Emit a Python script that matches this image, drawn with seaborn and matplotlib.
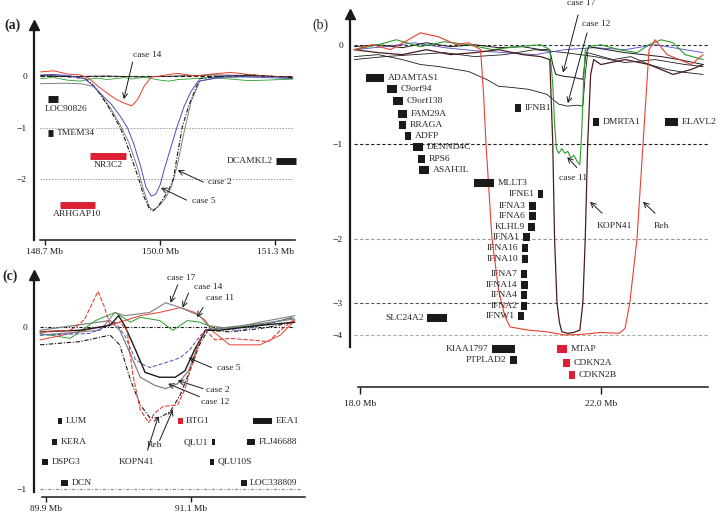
import numpy as np
import matplotlib
matplotlib.use('Agg')
import matplotlib.pyplot as plt
import seaborn as sns

sns.set_theme(style='white')
plt.rcParams['font.family'] = ['Liberation Serif', 'DejaVu Serif']

RED = '#ea3f2e'
GENE_RED = '#dc1f35'
BLUE = '#4b4bc6'
GREEN = '#2a9e2a'
GRAY = '#808080'
BROWN = '#4a1c1c'
MINUS = '\u2212'

# ---------------- panel (a) data ----------------
a_case5_x = [148.65, 148.8, 149.0, 149.15, 149.25, 149.35, 149.45, 149.55, 149.63, 149.7, 149.78, 149.84,
             149.9, 149.95, 150.0, 150.05, 150.12, 150.19, 150.27, 150.35, 150.43, 150.6, 150.8, 151.0, 151.2, 151.5]
a_case5_y = [0.02, 0.03, 0.0, -0.05, -0.2, -0.38, -0.55, -0.78, -1.0, -1.3, -1.75, -2.15,
             -2.33, -2.3, -2.12, -1.8, -1.4, -1.0, -0.6, -0.3, -0.1, -0.05, 0.0, -0.02, -0.03, -0.05]
a_case2_x = [148.65, 148.8, 149.0, 149.15, 149.23, 149.3, 149.4, 149.5, 149.55, 149.62, 149.7, 149.76, 149.82,
             149.88, 149.92, 149.97, 150.03, 150.1, 150.15, 150.2, 150.25, 150.32, 150.4, 150.45, 150.6, 150.8,
             151.0, 151.2, 151.5]
a_case2_y = [0.0, 0.0, -0.02, -0.05, -0.15, -0.3, -0.55, -0.85, -1.0, -1.3, -1.7, -2.0, -2.35,
             -2.58, -2.62, -2.55, -2.4, -2.2, -2.0, -1.5, -1.0, -0.6, -0.25, -0.05, -0.02, 0.0,
             0.02, 0.0, -0.03]
a_gray_x = [148.65, 148.9, 149.1, 149.25, 149.35, 149.45, 149.55, 149.65, 149.75, 149.82, 149.88, 149.93, 150.0,
            150.07, 150.13, 150.2, 150.27, 150.35, 150.45, 150.6, 150.9, 151.2, 151.5]
a_gray_y = [-0.15, -0.14, -0.15, -0.2, -0.4, -0.65, -0.95, -1.3, -1.8, -2.25, -2.55, -2.6, -2.5,
            -2.35, -2.15, -1.7, -1.1, -0.5, -0.1, -0.05, -0.02, 0.0, -0.04]
a_case14_x = [148.65, 148.8, 148.95, 149.1, 149.2, 149.3, 149.4, 149.5, 149.6, 149.68, 149.75, 149.82,
              149.9, 150.0, 150.1, 150.2, 150.4, 150.6, 150.8, 151.0, 151.2, 151.5]
a_case14_y = [0.08, 0.1, 0.04, 0.02, -0.05, -0.2, -0.33, -0.45, -0.53, -0.58, -0.45, -0.2,
              -0.02, 0.0, 0.03, 0.05, 0.0, 0.04, 0.07, 0.03, 0.0, -0.03]
a_green_y = [-0.05, -0.03, -0.08, -0.1, -0.06, -0.04, -0.07, -0.05, -0.03, -0.06, -0.04, -0.02,
             -0.05, -0.08, -0.1, -0.07, -0.05, -0.03, -0.06, -0.09, -0.08, -0.06]
a_black_x = [148.65, 149.0, 149.4, 149.8, 150.2, 150.6, 151.0, 151.5]
a_black_y = [0.01, -0.01, 0.0, -0.02, 0.0, 0.02, 0.01, -0.02]

a_genes = ['LOC90826', 'TMEM34', 'NR3C2', 'ARHGAP10', 'DCAMKL2']
a_start = [148.73, 148.73, 149.21, 148.87, 151.31]
a_end = [148.85, 148.79, 149.62, 149.26, 151.54]
a_gy = [-0.45, -1.1, -1.55, -2.5, -1.65]
a_gcol = ['k', 'k', GENE_RED, GENE_RED, 'k']
a_side = ['belowleft', 'right', 'below', 'below', 'left']

a_ann = ['case 14', 'case 2', 'case 5']
a_tip = [(149.59, -0.45), (150.2, -1.83), (150.01, -2.17)]
a_tail = [(149.69, 0.27), (150.49, -2.06), (150.3, -2.41)]
a_txt = [(149.86, 0.41), (150.67, -2.06), (150.49, -2.43)]

# ---------------- panel (b) data ----------------
b_reh_x = [17.9, 18.2, 18.5, 18.8, 19.0, 19.3, 19.6, 19.8, 20.0, 20.05, 20.09, 20.19, 20.3, 20.4, 20.49,
           20.8, 21.1, 21.4, 21.7, 22.0, 22.3, 22.4, 22.48, 22.6, 22.7, 22.8, 22.9, 23.1, 23.3, 23.5, 23.7]
b_reh_y = [-0.05, 0.0, -0.05, 0.05, 0.12, 0.08, 0.0, 0.02, -0.05, -0.5, -1.0, -2.0, -2.8, -3.4, -3.75,
           -3.85, -3.9, -4.0, -3.98, -3.92, -3.95, -3.8, -3.0, -2.0, -1.0, -0.05, 0.05, -0.1, -0.15, -0.2, -0.1]
b_kopn_x = [17.9, 18.3, 18.7, 19.1, 19.5, 19.9, 20.3, 20.7, 21.0, 21.15, 21.2, 21.23, 21.27, 21.31, 21.35,
            21.45, 21.55, 21.65, 21.7, 21.74, 21.78, 21.83, 21.88, 22.0, 22.4, 22.8, 23.2, 23.5, 23.7]
b_kopn_y = [-0.05, -0.08, -0.1, -0.05, -0.1, -0.08, -0.05, -0.1, -0.12, -0.15, -1.0, -2.0, -3.0, -3.6, -3.9,
            -3.95, -3.92, -3.85, -3.0, -2.0, -1.0, -0.3, -0.15, -0.2, -0.15, -0.2, -0.3, -0.25, -0.2]
b_case11_x = [17.9, 18.3, 18.6, 19.0, 19.4, 19.8, 20.2, 20.6, 21.0, 21.15, 21.2, 21.23, 21.26, 21.3, 21.35,
              21.4, 21.45, 21.5, 21.55, 21.6, 21.65, 21.68, 21.71, 21.74, 21.8, 22.0, 22.3, 22.6, 22.8, 23.0,
              23.2, 23.4, 23.7]
b_case11_y = [-0.05, 0.0, 0.05, -0.02, 0.03, 0.0, -0.05, -0.02, 0.0, -0.05, -0.4, -0.8, -1.05, -1.1, -1.05,
              -1.1, -1.08, -1.15, -1.12, -1.18, -1.22, -0.9, -0.4, -0.05, -0.02, 0.0, -0.05, -0.08, 0.0, 0.05,
              0.02, -0.1, -0.15]
b_case12_x = [17.9, 18.3, 18.7, 19.0, 19.3, 19.6, 19.8, 20.1, 20.3, 20.5, 20.8, 21.1, 21.3, 21.45, 21.6,
              21.7, 21.74, 21.78, 21.9, 22.2, 22.5, 22.8, 23.1, 23.4, 23.7]
b_case12_y = [-0.12, -0.1, -0.15, -0.2, -0.22, -0.25, -0.27, -0.35, -0.42, -0.43, -0.45, -0.5, -0.6, -0.62,
              -0.61, -0.62, -0.3, -0.08, -0.1, -0.15, -0.12, -0.2, -0.25, -0.28, -0.3]
b_case17_x = [17.9, 18.3, 18.7, 19.1, 19.5, 19.9, 20.3, 20.7, 21.0, 21.15, 21.2, 21.25, 21.4, 21.55, 21.7,
              21.75, 21.8, 22.1, 22.4, 22.7, 23.0, 23.3, 23.7]
b_case17_y = [-0.02, 0.0, -0.03, 0.02, -0.02, 0.0, -0.03, -0.02, -0.05, -0.05, -0.2, -0.3, -0.32, -0.33,
              -0.35, -0.1, -0.02, -0.05, -0.08, -0.1, -0.12, -0.15, -0.2]
b_base_x = [17.9, 18.4, 18.9, 19.4, 19.9, 20.4, 20.9, 21.4, 21.9, 22.4, 22.9, 23.4, 23.7]
b_blue_y = [-0.05, -0.02, 0.02, -0.03, -0.06, -0.08, -0.1, -0.05, -0.03, -0.05, 0.0, -0.05, -0.08]
b_black_y = [-0.15, -0.12, -0.1, -0.08, -0.12, -0.1, -0.05, -0.08, -0.12, -0.18, -0.15, -0.2, -0.22]

b_genes = ['ADAMTAS1', 'C9orf94', 'C9orf138', 'FAM29A', 'RRAGA', 'ADFP', 'DENND4C', 'RPS6', 'ASAH3L',
           'MLLT3', 'IFNB1', 'DMRTA1', 'ELAVL2', 'IFNE1', 'IFNA3', 'IFNA6', 'KLHL9', 'IFNA1', 'IFNA16',
           'IFNA10', 'IFNA7', 'IFNA14', 'IFNA4', 'IFNA2', 'IFNW1', 'SLC24A2', 'KIAA1797', 'PTPLAD2',
           'MTAP', 'CDKN2A', 'CDKN2B']
b_start = [18.10, 18.45, 18.55, 18.63, 18.65, 18.75, 18.88, 18.96, 18.98, 19.89, 20.57, 21.87, 23.06,
           20.95, 20.80, 20.80, 20.79, 20.71, 20.69, 20.69, 20.67, 20.67, 20.67, 20.67, 20.62, 19.11,
           20.19, 20.49, 21.27, 21.37, 21.47]
b_end = [18.40, 18.61, 18.71, 18.78, 18.76, 18.85, 19.05, 19.08, 19.15, 20.22, 20.67, 21.97, 23.28,
         21.04, 20.92, 20.92, 20.90, 20.82, 20.79, 20.79, 20.77, 20.79, 20.77, 20.77, 20.72, 19.44,
         20.57, 20.61, 21.44, 21.49, 21.57]
b_gy = [-0.34, -0.45, -0.57, -0.70, -0.81, -0.92, -1.03, -1.16, -1.28, -1.41, -0.64, -0.78, -0.78,
        -1.53, -1.65, -1.76, -1.87, -1.98, -2.14, -2.31, -2.55, -2.72, -2.87, -3.09, -3.41, -3.47,
        -4.44, -4.78, -4.44, -4.88, -5.25]
b_gcol = ['k'] * 28 + [GENE_RED] * 3
b_side = ['right'] * 13 + ['left'] * 15 + ['right'] * 3

# tick values of the (non-linear) ratio axis and where they sit (px from top)
b_knot_val = [-6, -4, -3, -2, -1, 0, 1]
b_knot_pos = [-399, -335, -303, -239, -144, -45, 54]

b_ann = ['case 17', 'case 12', 'case 11', 'KOPN41', 'Reh']
b_tip = [(21.37, -0.28), (21.45, -0.59), (21.44, -1.14), (21.82, -1.61), (22.7, -1.61)]
b_tail = [(21.62, 0.30), (21.77, 0.12), (21.6, -1.25), (22.02, -1.73), (22.9, -1.73)]
b_txt = [(21.67, 0.42), (21.92, 0.21), (21.54, -1.36), (22.23, -1.86), (23.0, -1.86)]

# ---------------- panel (c) data ----------------
c_reh_x = [89.85, 90.10, 90.18, 90.22, 90.33, 90.38, 90.43, 90.51, 90.57, 90.62, 90.68, 90.75, 90.80,
           90.87, 90.99, 91.05, 91.11, 91.17, 91.22, 91.30, 91.42, 91.59, 91.74, 91.84, 91.96]
c_reh_y = [-0.03, -0.02, 0.02, 0.05, 0.22, 0.13, 0.01, 0.03, -0.02, -0.30, -0.51, -0.59, -0.53,
           -0.49, -0.48, -0.38, -0.23, -0.08, -0.02, -0.08, -0.07, -0.08, -0.09, -0.02, 0.05]
c_case14_x = [89.85, 90.10, 90.35, 90.51, 90.68, 90.84, 91.01, 91.13, 91.22, 91.27, 91.42, 91.67, 91.84, 91.96]
c_case14_y = [-0.08, -0.04, 0.00, 0.03, 0.07, 0.09, 0.12, 0.09, 0.04, -0.02, -0.11, -0.11, -0.05, 0.04]
c_case11_x = [89.85, 90.10, 90.31, 90.47, 90.60, 90.68, 90.84, 90.95, 91.07, 91.17, 91.30, 91.51, 91.74, 91.94]
c_case11_y = [-0.04, -0.07, 0.04, 0.09, 0.03, 0.06, 0.04, -0.02, 0.04, 0.03, -0.01, 0.0, 0.02, 0.06]
c_case17_x = [89.85, 90.35, 90.47, 90.55, 90.76, 90.89, 91.01, 91.17, 91.24, 91.42, 91.67, 91.96]
c_case17_y = [-0.05, -0.02, 0.09, 0.07, 0.09, 0.15, 0.12, 0.07, 0.01, -0.01, 0.03, 0.07]
c_case2_x = [89.85, 90.18, 90.43, 90.50, 90.55, 90.64, 90.72, 90.84, 90.97, 91.05, 91.13, 91.22, 91.34,
             91.67, 91.96]
c_case2_y = [-0.03, -0.02, 0.01, 0.07, 0.01, -0.14, -0.28, -0.31, -0.31, -0.27, -0.14, -0.02, -0.02,
             0.01, 0.03]
c_case12_x = [89.85, 90.43, 90.51, 90.60, 90.68, 90.80, 90.89, 90.99, 91.08, 91.16, 91.22, 91.42, 91.67, 91.96]
c_case12_y = [-0.02, 0.04, -0.02, -0.17, -0.31, -0.36, -0.38, -0.35, -0.27, -0.11, -0.02, 0.0, 0.02, 0.05]
c_case5_x = [89.85, 90.26, 90.47, 90.55, 90.64, 90.70, 90.76, 90.89, 91.01, 91.09, 91.17, 91.23, 91.51, 91.96]
c_case5_y = [-0.05, -0.04, 0.03, -0.05, -0.20, -0.23, -0.25, -0.22, -0.19, -0.14, -0.06, -0.01, -0.02, 0.06]
c_kopn_x = [89.85, 90.18, 90.43, 90.51, 90.60, 90.68, 90.76, 90.84, 90.93, 91.01, 91.09, 91.17, 91.24,
            91.42, 91.67, 91.96]
c_kopn_y = [-0.11, -0.09, -0.05, -0.11, -0.33, -0.48, -0.56, -0.56, -0.52, -0.42, -0.27, -0.11, -0.02,
            -0.03, -0.01, 0.03]

c_genes = ['LUM', 'KERA', 'DSPG3', 'DCN', 'BTG1', 'QLU1', 'QLU10S', 'LOC338809', 'EEA1', 'FLJ46688']
c_start = [90.00, 89.95, 89.87, 90.02, 90.99, 91.27, 91.26, 91.51, 91.61, 91.56]
c_end = [90.03, 89.99, 89.92, 90.08, 91.03, 91.30, 91.29, 91.56, 91.77, 91.63]
c_gy = [-0.58, -0.71, -0.83, -0.96, -0.58, -0.71, -0.83, -0.96, -0.58, -0.71]
c_gcol = ['k', 'k', 'k', 'k', GENE_RED, 'k', 'k', 'k', 'k', 'k']
c_side = ['right', 'right', 'right', 'right', 'right', 'left', 'right', 'right', 'right', 'right']

c_ann = ['case 17', 'case 14', 'case 11', 'case 5', 'case 2', 'case 12', 'Reh', 'KOPN41']
c_tip = [(90.93, 0.15), (91.03, 0.12), (91.15, 0.06), (91.08, -0.19), (90.99, -0.33), (90.91, -0.35),
         (90.95, -0.51), (90.83, -0.55)]
c_tail = [(90.99, 0.26), (91.08, 0.21), (91.20, 0.12), (91.27, -0.25), (91.20, -0.38), (91.17, -0.43),
          (90.84, -0.70), (90.74, -0.76)]
c_txt = [(91.02, 0.30), (91.24, 0.25), (91.34, 0.18), (91.41, -0.25), (91.32, -0.39), (91.30, -0.46),
         (90.80, -0.73), (90.65, -0.83)]

FS = 6.8


def trace(ax, x, y, color, ls='-', lw=0.7):
    sns.lineplot(x=x, y=y, ax=ax, color=color, linestyle=ls, lw=lw, sort=False,
                 estimator=None, legend=False)


def genes(ax, names, starts, ends, ys, cols, sides, lw):
    ax.hlines(ys, starts, ends, colors=cols, lw=lw, clip_on=False)
    for n, s, e, y, side in zip(names, starts, ends, ys, sides):
        if side == 'right':
            ax.annotate(n, (e, y), xytext=(2.5, 0), textcoords='offset points', ha='left', va='center', fontsize=FS)
        elif side == 'left':
            ax.annotate(n, (s, y), xytext=(-2.5, 0), textcoords='offset points', ha='right', va='center', fontsize=FS)
        elif side == 'below':
            ax.annotate(n, ((s + e) / 2, y), xytext=(0, -4), textcoords='offset points', ha='center', va='top', fontsize=FS)
        else:
            ax.annotate(n, (s, y), xytext=(-2, -4), textcoords='offset points', ha='left', va='top', fontsize=FS)


def arrows(ax, labels, tips, tails, txts):
    for lab, tip, tail, t in zip(labels, tips, tails, txts):
        ax.annotate('', xy=tip, xytext=tail, annotation_clip=False,
                    arrowprops=dict(arrowstyle='->', lw=0.7, color='k', shrinkA=0, shrinkB=0, mutation_scale=9))
        ax.text(t[0], t[1], lab, ha='center', va='center', fontsize=FS, clip_on=False)


def frame(ax, xlim, ylim, xticks, xlabels, yticks, ylabels, xbounds, ybounds, tlen=3.5, tpad=2.5):
    ax.set_xlim(xlim)
    ax.set_ylim(ylim)
    ax.set_facecolor('none')
    ax.grid(False)
    for s in ('top', 'right'):
        ax.spines[s].set_visible(False)
    ax.spines['left'].set_linewidth(1.6)
    ax.spines['left'].set_color('k')
    ax.spines['left'].set_bounds(*ybounds)
    ax.spines['bottom'].set_linewidth(1.1)
    ax.spines['bottom'].set_color('k')
    ax.spines['bottom'].set_bounds(*xbounds)
    ax.set_xticks(xticks, xlabels)
    ax.set_yticks(yticks, ylabels)
    ax.tick_params(axis='y', left=False, length=0, pad=5, labelsize=FS, colors='k')
    ax.tick_params(axis='x', bottom=True, length=tlen, width=1, direction='out', pad=tpad, labelsize=FS, colors='k')
    ax.set_xlabel('')
    ax.set_ylabel('')
    ax.plot(0, 1, marker='^', color='k', ms=6.5, transform=ax.transAxes, clip_on=False)


fig = plt.figure(figsize=(7.2, 5.14), dpi=100)

# ---- (a)
ax = fig.add_axes([34 / 720, 274 / 514, 261 / 720, 215 / 514])
ax.hlines(0, 148.64, 151.5, color='k', lw=0.8, linestyles=(0, (4, 2)))
ax.hlines([-1, -2], 148.64, 151.5, color='#999999', lw=0.7, linestyles=(0, (1.5, 1.5)))
trace(ax, a_black_x, a_black_y, 'k', '-', 0.6)
trace(ax, a_case14_x, a_green_y, GREEN, '-', 0.6)
trace(ax, a_case14_x, a_case14_y, RED, '-', 0.7)
trace(ax, a_gray_x, a_gray_y, GRAY, '-', 0.7)
trace(ax, a_case2_x, a_case2_y, 'k', (0, (4, 1.5, 1, 1.5)), 0.8)
trace(ax, a_case5_x, a_case5_y, BLUE, '-', 0.7)
genes(ax, a_genes, a_start, a_end, a_gy, a_gcol, a_side, 5)
arrows(ax, a_ann, a_tip, a_tail, a_txt)
frame(ax, (148.576, 151.525), (-3.184, 0.99), [148.7, 150.0, 151.3], ['148.7 Mb', '150.0 Mb', '151.3 Mb'],
      [0, -1, -2], ['0', MINUS + '1', MINUS + '2'], (148.64, 151.52), (-3.184, 0.99))

# ---- (b)
ax = fig.add_axes([350 / 720, 127 / 514, 358 / 720, 373 / 514])
ax.set_yscale('function', functions=(lambda v: np.interp(v, b_knot_val, b_knot_pos),
                                     lambda p: np.interp(p, b_knot_pos, b_knot_val)))
ref_cols = ['#333333', '#222222', '#999999', '#555555', '#aaaaaa']
for v, c in zip([0, -1, -2, -3, -4], ref_cols):
    ax.hlines(v, 17.9, 23.78, color=c, lw=0.8, linestyles=(0, (3, 2)))
trace(ax, b_base_x, b_black_y, 'k', '-', 0.6)
trace(ax, b_base_x, b_blue_y, BLUE, '-', 0.6)
trace(ax, b_case17_x, b_case17_y, 'k', '-', 0.7)
trace(ax, b_case12_x, b_case12_y, 'k', '-', 0.6)
trace(ax, b_case11_x, b_case11_y, GREEN, '-', 0.8)
trace(ax, b_kopn_x, b_kopn_y, BROWN, '-', 0.9)
trace(ax, b_reh_x, b_reh_y, RED, '-', 0.8)
genes(ax, b_genes, b_start, b_end, b_gy, b_gcol, b_side, 5.8)
arrows(ax, b_ann, b_tip, b_tail, b_txt)
frame(ax, (17.83, 23.78), (-5.625, 0.31), [18.0, 22.0], ['18.0 Mb', '22.0 Mb'],
      [0, -1, -2, -3, -4], ['0', MINUS + '1', MINUS + '2', MINUS + '3', MINUS + '4'],
      (17.97, 23.78), (-4.37, 0.31), tlen=5, tpad=4)

# ---- (c)
ax = fig.add_axes([34 / 720, 17 / 514, 271 / 720, 222 / 514])
ax.hlines(0, 89.85, 91.95, color='k', lw=0.8, linestyles=(0, (3, 1.5, 1, 1.5)))
ax.hlines(-1, 89.85, 92.0, color='#888888', lw=0.8, linestyles=(0, (3, 1.5, 1, 1.5)))
trace(ax, c_case11_x, c_case11_y, GREEN, '-', 0.7)
trace(ax, c_case14_x, c_case14_y, RED, '-', 0.7)
trace(ax, c_case17_x, c_case17_y, GRAY, '-', 0.8)
trace(ax, c_case5_x, c_case5_y, BLUE, (0, (4, 2)), 0.7)
trace(ax, c_case12_x, c_case12_y, GRAY, '-', 0.9)
trace(ax, c_case2_x, c_case2_y, 'k', '-', 1.0)
trace(ax, c_kopn_x, c_kopn_y, 'k', (0, (4, 1.5, 1, 1.5)), 0.8)
trace(ax, c_reh_x, c_reh_y, RED, (0, (4, 1.5)), 0.8)
genes(ax, c_genes, c_start, c_end, c_gy, c_gcol, c_side, 4.3)
arrows(ax, c_ann, c_tip, c_tail, c_txt)
frame(ax, (89.80, 92.044), (-1.049, 0.321), [89.9, 91.1], ['89.9 Mb', '91.1 Mb'],
      [0, -1], ['0', MINUS + '1'], (89.87, 92.04), (-1.02, 0.321))

fig.text(4 / 720, 1 - 25 / 514, '(a)', fontsize=10, fontweight='bold', ha='left', va='center')
fig.text(312 / 720, 1 - 25 / 514, '(b)', fontsize=10, ha='left', va='center')
fig.text(2 / 720, 1 - 276 / 514, '(c)', fontsize=10, fontweight='bold', ha='left', va='center')

fig.savefig('out.png', dpi=100)
